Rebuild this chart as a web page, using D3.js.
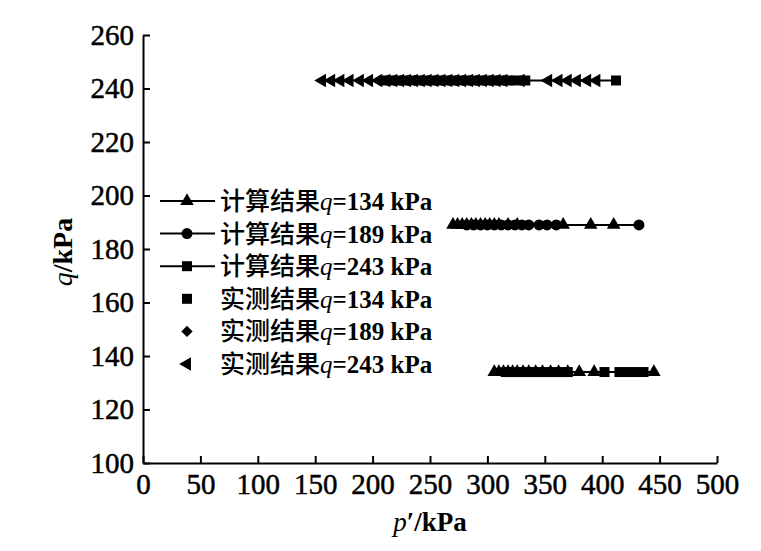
<!DOCTYPE html>
<html>
<head>
<meta charset="utf-8">
<script src="https://cdn.jsdelivr.net/npm/d3@7"></script>
<style>
  body { margin: 0; background: #fff; }
  svg { display: block; }
  .tick text { font-family: "Liberation Serif", "Times New Roman", serif; font-size: 29px; fill: #000; stroke: #000; stroke-width: 0.5px; }
</style>
</head>
<body>
<svg id="chart" width="761" height="551"></svg>
<script>
// axis ticks
var xTicks = [0, 50, 100, 150, 200, 250, 300, 350, 400, 450, 500];
var yTicks = [100, 120, 140, 160, 180, 200, 220, 240, 260];

// calculated paths (p' values, kPa) - q held constant
var calc134P = [306, 310, 314, 318, 322, 326, 331, 336, 342, 348, 355, 362, 370, 380, 393, 445];
var calc189P = [282, 288, 294, 300, 306, 312, 318, 324, 330, 336, 345, 352, 360, 432];
var calc243P = [210, 216, 222, 228, 234, 240, 246, 252, 258, 264, 270, 276, 282, 288, 294, 300, 306, 312, 318, 325, 333, 412];

// measured points
var meas134P = [316, 322, 328, 334, 340, 346, 352, 358, 364, 370, 402, 415, 422, 429, 436];
var meas189P = [270, 274, 278, 282, 286, 290, 294, 298, 302, 306, 310, 318, 326, 366, 390, 410];
var meas243P = [156, 164, 172, 180, 189, 197, 205, 212, 218, 224, 230, 236, 242, 248, 254, 260, 266, 272, 278, 284, 290, 296, 302, 308, 314, 329, 353, 362, 370, 378, 387, 395];

var qLevels = [134, 189, 243];

var legendLabels = [
  {cn: "计算结果", q: "134", sym: "triangle", line: true},
  {cn: "计算结果", q: "189", sym: "circle", line: true},
  {cn: "计算结果", q: "243", sym: "square", line: true},
  {cn: "实测结果", q: "134", sym: "square", line: false},
  {cn: "实测结果", q: "189", sym: "diamond", line: false},
  {cn: "实测结果", q: "243", sym: "left", line: false}
];

var svg = d3.select('#chart');

var x = d3.scaleLinear().domain([0, 500]).range([143, 717]);
var y = d3.scaleLinear().domain([100, 260]).range([463, 35]);

// marker paths
function markerPath(sym) {
  if (sym === 'triangle') return d3.symbol().type(d3.symbolTriangle).size(80)();
  if (sym === 'left') return d3.symbol().type(d3.symbolTriangle).size(80)();
  if (sym === 'circle') return d3.symbol().type(d3.symbolCircle).size(95)();
  if (sym === 'square') return d3.symbol().type(d3.symbolSquare).size(100)();
  if (sym === 'diamond') return d3.symbol().type(d3.symbolSquare).size(64)();
}
function markerRot(sym) {
  if (sym === 'left') return -90;
  if (sym === 'diamond') return 45;
  return 0;
}

// the q=189 measured points show as upward triangles in the figure
var series = [
  {p: calc134P, q: qLevels[0], sym: 'triangle', line: true},
  {p: calc189P, q: qLevels[1], sym: 'circle', line: true},
  {p: calc243P, q: qLevels[2], sym: 'square', line: true},
  {p: meas134P, q: qLevels[0], sym: 'square', line: false},
  {p: meas189P, q: qLevels[1], sym: 'triangle', line: false},
  {p: meas243P, q: qLevels[2], sym: 'left', line: false}
];

var line = d3.line()
  .x(function(d){ return x(d[0]); })
  .y(function(d){ return y(d[1]); });

series.forEach(function(s){
  var pts = s.p.map(function(v){ return [v, s.q]; });
  if (s.line) {
    svg.append('path')
      .datum(pts)
      .attr('d', line)
      .attr('fill', 'none')
      .attr('stroke', '#000')
      .attr('stroke-width', 2);
  }
  svg.append('g').selectAll('path')
    .data(pts)
    .enter()
    .append('path')
    .attr('d', markerPath(s.sym))
    .attr('transform', function(d){
      return 'translate(' + x(d[0]) + ',' + y(d[1]) + ') rotate(' + markerRot(s.sym) + ')';
    })
    .attr('fill', '#000');
});

// axes
var gx = svg.append('g')
  .attr('transform', 'translate(0,' + y(100) + ')')
  .call(d3.axisBottom(x).tickValues(xTicks).tickSizeInner(-7).tickSizeOuter(0).tickPadding(10));
var gy = svg.append('g')
  .attr('transform', 'translate(' + x(0) + ',0)')
  .call(d3.axisLeft(y).tickValues(yTicks).tickSizeInner(-7).tickSizeOuter(0).tickPadding(9));
[gx, gy].forEach(function(g){
  g.select('.domain').attr('stroke', '#000').attr('stroke-width', 2);
  g.selectAll('.tick line').attr('stroke', '#000').attr('stroke-width', 2);
});

// axis titles
var serif = '"Liberation Serif", "Times New Roman", serif';
var yt = svg.append('text')
  .attr('transform', 'translate(72,252) rotate(-90)')
  .attr('text-anchor', 'middle')
  .attr('font-family', serif)
  .attr('font-size', 28);
yt.append('tspan').attr('font-style', 'italic').text('q');
yt.append('tspan').attr('font-weight', 'bold').text('/kPa');

var xt = svg.append('text')
  .attr('x', 430)
  .attr('y', 531)
  .attr('text-anchor', 'middle')
  .attr('font-family', serif)
  .attr('font-size', 27);
xt.append('tspan').attr('font-style', 'italic').text('p');
xt.append('tspan').attr('font-weight', 'bold').text('′/kPa');

// legend
var legend = svg.append('g');
var rowH = 32.6;
legendLabels.forEach(function(d, i){
  var cy = 201 + i * rowH;
  var g = legend.append('g').attr('transform', 'translate(0,' + cy + ')');
  if (d.line) {
    g.append('line').attr('x1', 160).attr('x2', 215).attr('y1', 0).attr('y2', 0)
      .attr('stroke', '#000').attr('stroke-width', 2);
  }
  g.append('path')
    .attr('d', markerPath(d.sym))
    .attr('transform', 'translate(187,0) rotate(' + markerRot(d.sym) + ')')
    .attr('fill', '#000');
  var t = g.append('text')
    .attr('x', 220)
    .attr('y', 9)
    .attr('font-size', 25);
  t.append('tspan').attr('font-family', '"Noto Sans CJK SC", sans-serif').attr('font-weight', 500).text(d.cn);
  t.append('tspan').attr('font-family', serif).attr('font-style', 'italic').text('q');
  t.append('tspan').attr('font-family', serif).attr('font-weight', 'bold').text('=' + d.q + ' kPa');
});
</script>
</body>
</html>
